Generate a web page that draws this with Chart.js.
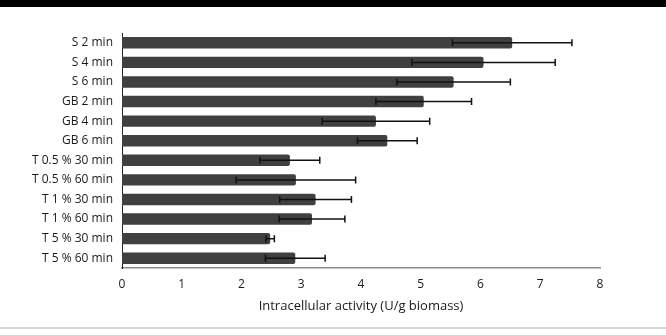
<!DOCTYPE html>
<html>
<head>
<meta charset="utf-8">
<script src="https://cdn.jsdelivr.net/npm/chart.js@4.4.0/dist/chart.umd.min.js"></script>
<style>
  body { margin: 0; background: #fff; }
  #wrap { position: relative; width: 666px; height: 335px; overflow: hidden; }
  #topbar { position: absolute; left: 0; top: 0; width: 666px; height: 7px; background: #000; }
  #botline { position: absolute; left: 0; top: 327px; width: 666px; height: 2px; background: #d8d8d8; }
  canvas { position: absolute; left: 0; top: 0; }
</style>
</head>
<body>
<div id="wrap">
  <div id="topbar"></div>
  <canvas id="mychart" width="666" height="335"></canvas>
  <div id="botline"></div>
</div>
<script>
let categories = ['S 2 min', 'S 4 min', 'S 6 min', 'GB 2 min', 'GB 4 min', 'GB 6 min',
  'T 0.5 % 30 min', 'T 0.5 % 60 min', 'T 1 % 30 min', 'T 1 % 60 min', 'T 5 % 30 min', 'T 5 % 60 min'];
let activity = [6.53, 6.05, 5.55, 5.05, 4.25, 4.44, 2.81, 2.91, 3.24, 3.18, 2.48, 2.9];
let errors = [1.0, 1.2, 0.95, 0.8, 0.9, 0.5, 0.5, 1.0, 0.6, 0.55, 0.07, 0.5];
let xTicks = [0, 1, 2, 3, 4, 5, 6, 7, 8];

let ctx = document.getElementById('mychart').getContext('2d');

let errorBars = {
  id: 'errorBars',
  afterDatasetsDraw(chart) {
    let c = chart.ctx;
    let xs = chart.scales.x;
    let meta = chart.getDatasetMeta(0);
    c.save();
    c.strokeStyle = '#111';
    c.lineWidth = 1.5;
    meta.data.forEach((bar, i) => {
      let y = bar.y;
      let lo = xs.getPixelForValue(activity[i] - errors[i]);
      let hi = xs.getPixelForValue(activity[i] + errors[i]);
      c.beginPath();
      c.moveTo(lo, y); c.lineTo(hi, y);
      c.moveTo(lo, y - 3.5); c.lineTo(lo, y + 3.5);
      c.moveTo(hi, y - 3.5); c.lineTo(hi, y + 3.5);
      c.stroke();
    });
    c.restore();
  }
};

let obj = new Chart(ctx, {
  type: 'bar',
  data: {
    labels: categories,
    datasets: [{
      data: activity,
      backgroundColor: '#404040',
      borderRadius: 2,
      borderSkipped: 'start',
      categoryPercentage: 1,
      barPercentage: 0.58
    }]
  },
  options: {
    indexAxis: 'y',
    responsive: false,
    animation: false,
    layout: { padding: { left: 0, right: 66, top: 33, bottom: 17 } },
    plugins: { legend: { display: false }, tooltip: { enabled: false } },
    scales: {
      x: {
        min: 0, max: 8,
        afterBuildTicks: s => { s.ticks = xTicks.map(v => ({ value: v })); },
        afterFit: s => { s.height = 50; },
        grid: { display: false, drawTicks: false },
        border: { display: true, color: '#8c8c8c', width: 1.5 },
        ticks: { color: '#1a1a1a', font: { family: 'Open Sans', size: 12 }, padding: 9 },
        title: { display: true, text: 'Intracellular activity (U/g biomass)', color: '#1a1a1a',
          font: { family: 'Open Sans', size: 13 }, padding: { top: 2 } }
      },
      y: {
        afterFit: s => { s.width = 122; },
        grid: { display: false, drawTicks: false },
        border: { display: true, color: '#222', width: 1 },
        ticks: { color: '#1a1a1a', font: { family: 'Open Sans', size: 12 }, padding: 9 }
      }
    }
  },
  plugins: [errorBars]
});
</script>
</body>
</html>
